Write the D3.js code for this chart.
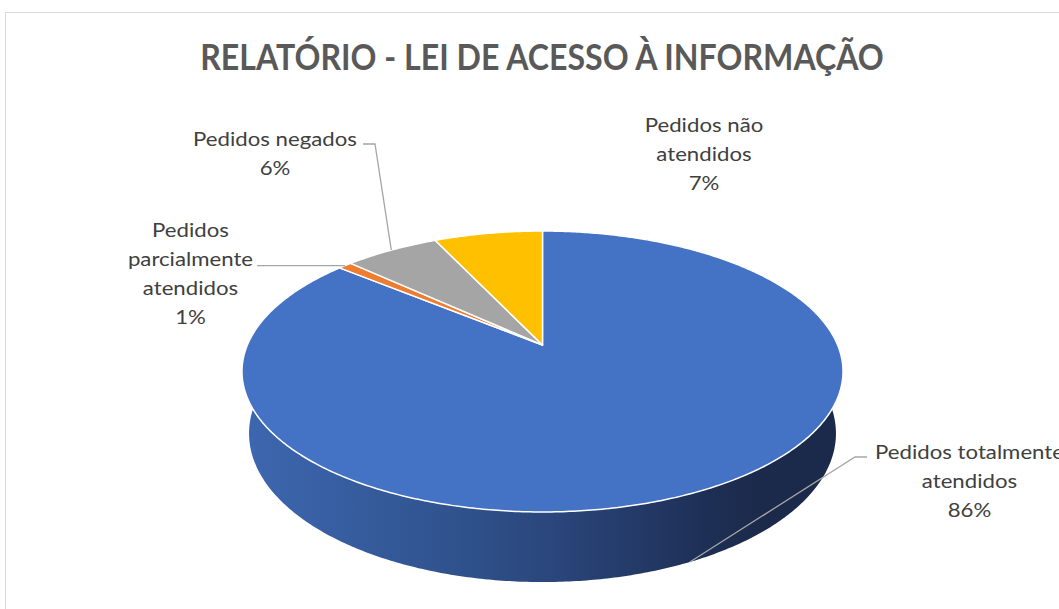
<!DOCTYPE html>
<html>
<head>
<meta charset="utf-8">
<script src="https://cdn.jsdelivr.net/npm/d3@7"></script>
<style>
  html, body { margin: 0; padding: 0; background: #ffffff; }
  svg { display: block; }
</style>
</head>
<body>
<svg id="chart" width="1059" height="609"></svg>
<script>
// ---- data ----
const title = "RELATÓRIO - LEI DE ACESSO À INFORMAÇÃO";
const categories = [
  "Pedidos totalmente atendidos",
  "Pedidos parcialmente atendidos",
  "Pedidos negados",
  "Pedidos não atendidos"
];
const values = [86.0, 0.9, 6.1, 7.0];
const colors = ["#4472c4", "#ed7d31", "#a5a5a5", "#ffc000"];
const labelLines = [
  ["Pedidos totalmente", "atendidos"],
  ["Pedidos", "parcialmente", "atendidos"],
  ["Pedidos negados"],
  ["Pedidos não", "atendidos"]
];

// ---- layout ----
const W = 1059, H = 609;
const svg = d3.select("#chart");

svg.append("rect").attr("x", 5.5).attr("y", 12.5).attr("width", 1200).attr("height", 800)
  .attr("fill", "#ffffff").attr("stroke", "#d9d9d9").attr("stroke-width", 1);

// perspective projection of a unit-radius disk (top at y=0, bottom at y=-thick)
const cx = 542.5, cy = 345;
const sinA = 0.459, cosA = Math.sqrt(1 - sinA * sinA);
const Dist = 4.71, focal = 1390, thick = 0.238;
function proj(phi, y) {
  const x = Math.sin(phi), z = Math.cos(phi);
  const d = Dist + z * cosA - y * sinA;
  return [cx + focal * x / d, cy - focal * (y * cosA + z * sinA) / d];
}

const pie = d3.pie().sort(null).value(d => d)(values);
const line = d3.line();
const STEP = 0.01;
function arcPts(a0, a1, y) {
  const n = Math.max(2, Math.ceil(Math.abs(a1 - a0) / STEP));
  return d3.range(n + 1).map(i => proj(a0 + (a1 - a0) * i / n, y));
}

// side gradient
const defs = svg.append("defs");
const grad = defs.append("linearGradient").attr("id", "sideBlue")
  .attr("gradientUnits", "userSpaceOnUse").attr("x1", 242).attr("x2", 843).attr("y1", 0).attr("y2", 0);
[[0, "#3d67b0"], [0.346, "#30538e"], [0.529, "#2a457a"], [0.762, "#1e3057"], [0.862, "#1b2a4a"], [1, "#1b2a4a"]]
  .forEach(([o, c]) => grad.append("stop").attr("offset", o).attr("stop-color", c));

const gPie = svg.append("g");
// sides
pie.forEach((s, i) => {
  const pts = arcPts(s.startAngle, s.endAngle, 0).concat(arcPts(s.endAngle, s.startAngle, -thick));
  gPie.append("path").attr("d", line(pts) + "Z")
    .attr("fill", i === 0 ? "url(#sideBlue)" : d3.color(colors[i]).darker(1.2));
});
// tops
pie.forEach((s, i) => {
  const p = [[cx, cy]].concat(arcPts(s.startAngle, s.endAngle, 0));
  gPie.append("path").attr("d", line(p) + "Z")
    .attr("fill", colors[i]).attr("stroke", "#ffffff").attr("stroke-width", 1.5)
    .attr("stroke-linejoin", "round");
});

// title
const tTitle = svg.append("text").attr("x", 0).attr("y", 0)
  .attr("font-family", "Lato, 'Open Sans', sans-serif").attr("font-weight", 700)
  .attr("font-size", 37).attr("fill", "#595959").attr("text-anchor", "middle").text(title);
const tw = tTitle.node().getComputedTextLength();
tTitle.attr("transform", `translate(542,70) scale(${684 / tw},1)`);

// labels
const labelFont = "Lato, 'Open Sans', sans-serif";
const probe = svg.append("text").attr("font-family", labelFont).attr("font-size", 20).text("Pedidos negados");
const lScale = 164 / probe.node().getComputedTextLength();
probe.remove();

const labelPos = [
  { x: 969.5, y: 459, leader: [[867, 457], [855, 457]], side: "left", line: 0 },
  { x: 190.5, y: 237, leader: [[247, 266]], side: "right", line: 1 },
  { x: 275, y: 146, leader: [[363, 144], [375, 144]], side: "right", line: 0 },
  { x: 704, y: 132, leader: null }
];
const LH = 29;
pie.forEach((s, i) => {
  const lp = labelPos[i];
  const pct = Math.round(values[i] / d3.sum(values) * 100) + "%";
  const lines = labelLines[i].concat([pct]);
  const t = svg.append("text").attr("font-family", labelFont).attr("font-size", 20)
    .attr("fill", "#404040").attr("text-anchor", "middle")
    .attr("transform", `translate(${lp.x},${lp.y}) scale(${lScale},1)`);
  const spans = lines.map((l, k) => t.append("tspan").attr("x", 0).attr("y", k * LH).text(l));
  if (lp.leader) {
    const mid = (s.startAngle + s.endAngle) / 2;
    const target = Math.cos(mid) < 0 ? proj(mid, -thick) : proj(mid, 0);
    const half = spans[lp.line].node().getComputedTextLength() * lScale / 2;
    let pts = lp.leader.map(p => p.slice());
    if (lp.side === "right") {
      const shift = Math.max(0, lp.x + half + 4 - pts[0][0]);
      pts.forEach(p => p[0] += shift);
    }
    if (pts.length === 1) pts = [[pts[0][0], target[1]]];
    pts.push(target);
    svg.insert("path", "text").attr("d", line(pts)).attr("fill", "none")
      .attr("stroke", "#a6a6a6").attr("stroke-width", 1.3);
  }
});
</script>
</body>
</html>
